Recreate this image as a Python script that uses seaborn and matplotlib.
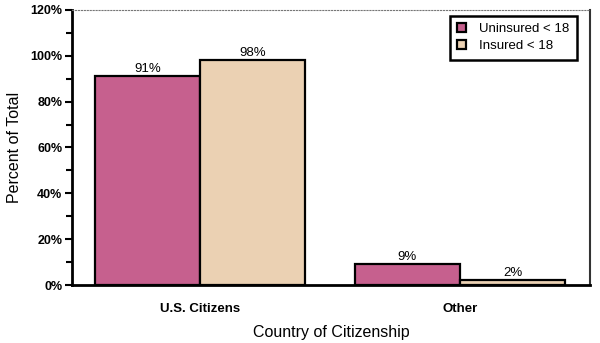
import matplotlib
matplotlib.use("Agg")
import matplotlib.pyplot as plt
import seaborn as sns
import pandas as pd
from matplotlib.ticker import MultipleLocator, FuncFormatter

categories = ["U.S. Citizens", "Other"]
uninsured = [91, 9]
insured = [98, 2]
series_names = ["Uninsured < 18", "Insured < 18"]

df = pd.DataFrame({
    "Country": categories * 2,
    "Percent": uninsured + insured,
    "Group": [series_names[0]] * len(categories) + [series_names[1]] * len(categories),
})

sns.set_theme(style="white")
plt.rcParams["font.family"] = ["Liberation Sans", "DejaVu Sans"]
plt.rcParams["text.color"] = "black"
plt.rcParams["axes.labelcolor"] = "black"
plt.rcParams["xtick.color"] = "black"
plt.rcParams["ytick.color"] = "black"

colors = ["#C6608E", "#EBD1B3"]

fig = plt.figure(figsize=(6.0, 3.43), dpi=100)
ax = fig.add_axes([0.12, 0.169, 0.863, 0.802])

sns.barplot(data=df, x="Country", y="Percent", hue="Group", palette=colors,
            width=0.81, edgecolor="black", linewidth=1.6, saturation=1,
            ax=ax)

for cont in ax.containers:
    ax.bar_label(cont, labels=[f"{v:.0f}%" for v in cont.datavalues],
                 padding=1, fontsize=9.5, color="black")

ax.set_ylim(0, 120)
ax.set_xlim(-0.492, 1.5)
ax.yaxis.set_major_locator(MultipleLocator(20))
ax.yaxis.set_minor_locator(MultipleLocator(10))
ax.yaxis.set_major_formatter(FuncFormatter(lambda v, p: f"{v:.0f}%"))
ax.tick_params(axis="y", which="major", left=True, length=5, width=1.5,
               labelsize=9, pad=2, direction="out", color="black",
               labelcolor="black")
ax.tick_params(axis="y", which="minor", left=True, length=4, width=1.5,
               direction="out", color="black")
ax.tick_params(axis="x", bottom=False, labelsize=9.5, pad=7, labelcolor="black")
for lbl in ax.get_yticklabels() + ax.get_xticklabels():
    lbl.set_fontweight("bold")

ax.set_xlabel("Country of Citizenship", fontsize=11.5, labelpad=7, color="black")
ax.set_ylabel("Percent of Total", fontsize=11.5, labelpad=6, color="black")

for side in ["left", "bottom"]:
    ax.spines[side].set_linewidth(2)
    ax.spines[side].set_color("black")
ax.spines["right"].set_linewidth(1.5)
ax.spines["right"].set_color("#333333")
ax.spines["top"].set_linewidth(0.8)
ax.spines["top"].set_color("#777777")
ax.spines["top"].set_linestyle(":")

leg = ax.legend(loc="upper right", bbox_to_anchor=(0.975, 0.978), fontsize=9.5,
                frameon=True, fancybox=False, edgecolor="black",
                framealpha=1, handlelength=0.7, handleheight=0.7,
                handletextpad=1.0, borderpad=0.55, borderaxespad=0,
                labelspacing=0.35, title=None)
leg.get_frame().set_linewidth(1.8)
leg.get_frame().set_edgecolor("black")
for t in leg.get_texts():
    t.set_color("black")

fig.savefig("out.png", dpi=100)
